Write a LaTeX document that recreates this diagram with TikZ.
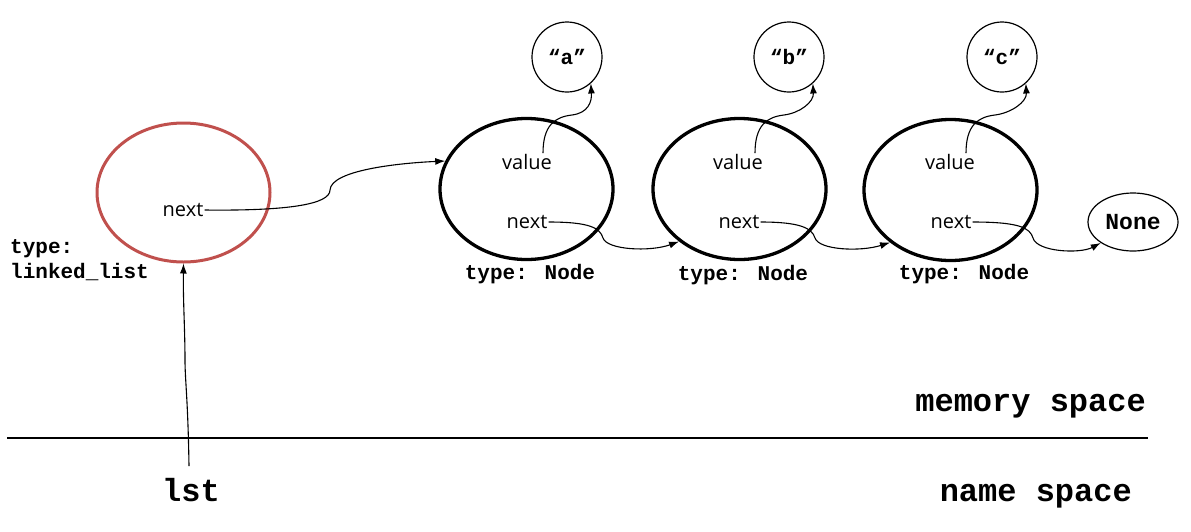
\documentclass[tikz,border=0pt]{standalone}
\usepackage{fontspec}
\setmainfont{Open Sans}
\newfontfamily\monofam{Liberation Mono}
\usetikzlibrary{arrows.meta,shapes.geometric}
\definecolor{listred}{HTML}{C0504D}
\tikzset{
  objnode/.style={draw=black,line width=3.3pt,ellipse,minimum width=173pt,minimum height=141pt,inner sep=0pt},
  listnode/.style={draw=listred,line width=3pt,ellipse,minimum width=173pt,minimum height=139pt,inner sep=0pt},
  valnode/.style={draw=black,line width=1.2pt,circle,minimum size=70pt,inner sep=0pt,font=\monofam\bfseries\fontsize{21}{24}\selectfont},
  nonenode/.style={draw=black,line width=1.2pt,ellipse,minimum width=90pt,minimum height=58pt,inner sep=0pt,font=\monofam\bfseries\fontsize{23}{26}\selectfont},
  field/.style={inner sep=1pt,font=\fontsize{20}{24}\selectfont},
  typelbl/.style={inner sep=0pt,font=\monofam\bfseries\fontsize{21}{24}\selectfont},
  biglbl/.style={inner sep=0pt,font=\monofam\bfseries\fontsize{32}{36}\selectfont},
  arr/.style={line width=1.1pt,-{Latex[length=10pt,width=7pt]}},
}
\begin{document}
\begin{tikzpicture}[x=1pt,y=-1pt]
\useasboundingbox (0,0) rectangle (1191,531);
% list object
\node[listnode] (L) at (183.5,192.5) {};
\node[field] (Lnext) at (183,210) {next};
\node[typelbl,anchor=base west] (Lt1) at (10,253) {type:};
\node[typelbl,anchor=base west] (Lt2) at (10,278) {linked\_list};
% Node objects
\node[objnode] (N1) at (526.5,189) {};
\node[objnode] (N2) at (739.5,189) {};
\node[objnode] (N3) at (950.5,190) {};
\node[field] (V1) at (527,162) {value};
\node[field] (X1) at (527,222) {next};
\node[field] (V2) at (738,162) {value};
\node[field] (X2) at (739,222) {next};
\node[field] (V3) at (950,162) {value};
\node[field] (X3) at (951,222) {next};
\node[typelbl,anchor=base] (T1) at (530,279) {type: Node};
\node[typelbl,anchor=base] (T2) at (743,280) {type: Node};
\node[typelbl,anchor=base] (T3) at (964,279) {type: Node};
% values
\node[valnode] (A) at (567,57) {“a”};
\node[valnode] (B) at (789,57) {“b”};
\node[valnode] (C) at (1002,57) {“c”};
\node[nonenode] (None) at (1133,222) {None};
% arrows
\draw[arr] (Lnext.east) .. controls (290,211) and (330,204) .. (330,190)
  .. controls (331,170) and (400,163) .. (N1.161);
\draw[arr] (V1.north -| 543,0) .. controls (543,125) and (555,117) .. (572,115)
  .. controls (588,113) and (592,102) .. (A.-48);
\draw[arr] (V2.north -| 755,0) .. controls (755,125) and (767,117) .. (784,115)
  .. controls (800,113) and (814,102) .. (B.-48);
\draw[arr] (V3.north -| 966,0) .. controls (966,125) and (978,117) .. (995,115)
  .. controls (1011,113) and (1027,102) .. (C.-48);
\draw[arr] (X1.east) .. controls (590,222) and (600,228) .. (603,238)
  .. controls (607,250) and (650,252) .. (N2.221);
\draw[arr] (X2.east) .. controls (800,222) and (812,228) .. (815,238)
  .. controls (819,250) and (860,252) .. (N3.221);
\draw[arr] (X3.east) .. controls (1020,222) and (1030,228) .. (1033,238)
  .. controls (1037,252) and (1080,254) .. (None.213);
% name space
\draw[line width=2.5pt] (7,438) coordinate (HL) -- (1148,438) coordinate (HR);
\node[biglbl,anchor=base east] (mem) at (1146,411) {memory space};
\node[biglbl,anchor=base east] (nam) at (1132,501) {name space};
\node[biglbl,anchor=base] (lst) at (191,501) {lst};
\coordinate (lstTop) at (189,466);
\draw[arr] (lstTop) .. controls (188,400) and (185,380) .. (185,360) .. controls (185,330) and (183,300) .. (L.south);
\end{tikzpicture}
\end{document}
